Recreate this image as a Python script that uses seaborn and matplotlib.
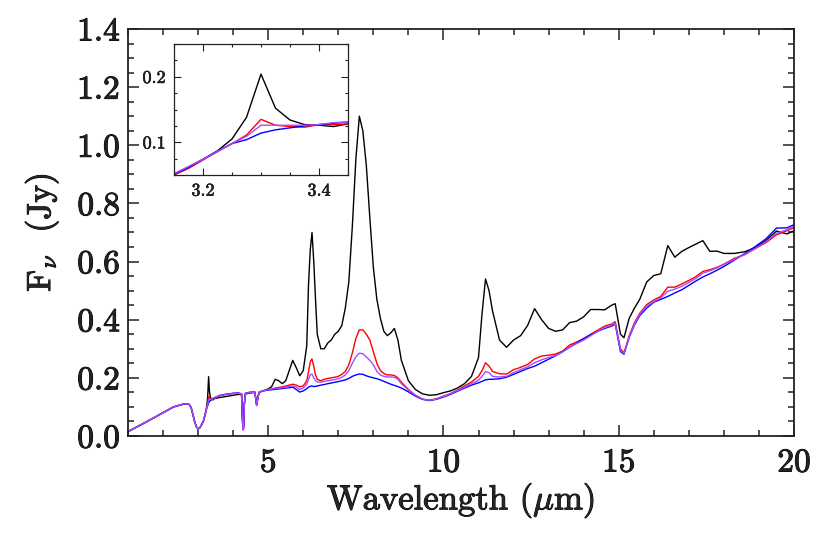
import matplotlib
matplotlib.use('Agg')
import matplotlib.pyplot as plt
import matplotlib.patheffects as pe
import numpy as np
import pandas as pd
import seaborn as sns
from matplotlib.ticker import MultipleLocator, FormatStrFormatter

# 波长网格 (micron)
wave = [
    1.0, 1.5, 2.0, 2.3, 2.5, 2.6, 2.7, 2.75, 2.8, 2.85, 2.9, 2.95, 3.0, 3.05, 3.1,
    3.15, 3.175, 3.2, 3.225, 3.25, 3.275, 3.3, 3.325, 3.35, 3.375, 3.4, 3.425, 3.45,
    3.6, 3.8, 4.0, 4.15, 4.24, 4.26, 4.28, 4.3, 4.32, 4.35, 4.45, 4.55, 4.62, 4.65, 4.67, 4.7, 4.74, 4.85, 5.0,
    5.1, 5.2, 5.3, 5.4, 5.5, 5.6, 5.7, 5.8, 5.9, 6.0,
    6.1, 6.15, 6.2, 6.25, 6.3, 6.35, 6.4,
    6.5, 6.6, 6.7, 6.8, 6.9, 7.0, 7.1, 7.2, 7.3, 7.4, 7.5, 7.6, 7.7, 7.8, 7.9, 8.0, 8.1, 8.2, 8.3, 8.4, 8.5, 8.6, 8.7, 8.8,
    9.0, 9.2, 9.4, 9.6, 9.8, 10.0, 10.2, 10.4, 10.6, 10.8,
    11.0, 11.1, 11.2, 11.3, 11.4,
    11.6, 11.8, 12.0, 12.2, 12.4, 12.6, 12.8, 13.0, 13.2, 13.4, 13.6, 13.8, 14.0, 14.2, 14.4, 14.6, 14.8,
    14.9, 15.05, 15.15, 15.3, 15.45, 15.6, 15.8,
    16.0, 16.2, 16.4, 16.6, 16.8, 17.0, 17.2, 17.4, 17.6, 17.8, 18.0,
    18.3, 18.6, 18.9, 19.2, 19.5, 19.8, 20.0,
]

# 共同部分 1-3.1 um
common_start = [0.015, 0.047, 0.080, 0.100, 0.107, 0.110, 0.111, 0.108, 0.098, 0.075, 0.050, 0.032, 0.024, 0.028, 0.039]

flux_black = common_start + [
    0.051, 0.062, 0.074, 0.087, 0.105, 0.138, 0.204, 0.152, 0.134, 0.127, 0.126, 0.124, 0.128,
    0.132, 0.136, 0.140, 0.143, 0.142, 0.070, 0.030, 0.035, 0.110, 0.144, 0.147, 0.149, 0.150, 0.125, 0.108, 0.128, 0.150, 0.155, 0.162,
    0.170, 0.195, 0.190, 0.180, 0.190, 0.225, 0.260, 0.235, 0.207, 0.225,
    0.310, 0.520, 0.640, 0.700, 0.600, 0.470, 0.350,
    0.300, 0.300, 0.320, 0.330, 0.350, 0.360, 0.380, 0.440, 0.530, 0.720, 0.950, 1.100, 1.050, 0.930, 0.750, 0.580, 0.470, 0.405, 0.360, 0.345, 0.355, 0.370, 0.330, 0.260,
    0.190, 0.160, 0.145, 0.140, 0.142, 0.149, 0.155, 0.165, 0.180, 0.205,
    0.270, 0.420, 0.540, 0.500, 0.430,
    0.330, 0.305, 0.330, 0.345, 0.380, 0.438, 0.400, 0.370, 0.360, 0.365, 0.390, 0.395, 0.410, 0.435, 0.435, 0.434, 0.450,
    0.455, 0.350, 0.338, 0.405, 0.440, 0.470, 0.530,
    0.552, 0.558, 0.655, 0.615, 0.635, 0.648, 0.660, 0.672, 0.635, 0.636, 0.628,
    0.628, 0.634, 0.648, 0.672, 0.705, 0.695, 0.706,
]

flux_red = common_start + [
    0.050, 0.060, 0.073, 0.086, 0.098, 0.111, 0.135, 0.126, 0.124, 0.123, 0.127, 0.127, 0.128,
    0.138, 0.143, 0.146, 0.147, 0.144, 0.070, 0.022, 0.028, 0.110, 0.146, 0.149, 0.150, 0.150, 0.125, 0.106, 0.128, 0.150, 0.155, 0.160,
    0.162, 0.165, 0.167, 0.169, 0.172, 0.175, 0.178, 0.175, 0.169, 0.172,
    0.190, 0.220, 0.255, 0.265, 0.240, 0.210, 0.195,
    0.190, 0.195, 0.198, 0.200, 0.202, 0.205, 0.212, 0.222, 0.245, 0.285, 0.335, 0.365, 0.365, 0.350, 0.330, 0.290, 0.250, 0.225, 0.215, 0.210, 0.210, 0.208, 0.200, 0.185,
    0.160, 0.140, 0.127, 0.123, 0.128, 0.137, 0.146, 0.158, 0.172, 0.186,
    0.205, 0.225, 0.252, 0.240, 0.222,
    0.214, 0.213, 0.228, 0.236, 0.246, 0.265, 0.275, 0.278, 0.282, 0.292, 0.313, 0.323, 0.335, 0.350, 0.364, 0.378, 0.385,
    0.393, 0.300, 0.286, 0.345, 0.390, 0.422, 0.452,
    0.468, 0.480, 0.512, 0.512, 0.523, 0.535, 0.548, 0.566, 0.572, 0.580, 0.591,
    0.611, 0.624, 0.645, 0.665, 0.692, 0.706, 0.717,
]

flux_blue = common_start + [
    0.051, 0.062, 0.074, 0.086, 0.098, 0.104, 0.114, 0.119, 0.122, 0.125, 0.127, 0.129, 0.131,
    0.139, 0.144, 0.147, 0.148, 0.145, 0.070, 0.022, 0.028, 0.110, 0.147, 0.150, 0.151, 0.151, 0.125, 0.106, 0.128, 0.151, 0.155, 0.158,
    0.159, 0.160, 0.162, 0.163, 0.165, 0.166, 0.168, 0.160, 0.151, 0.155,
    0.163, 0.168, 0.171, 0.172, 0.170, 0.171, 0.172,
    0.175, 0.177, 0.180, 0.182, 0.185, 0.187, 0.190, 0.193, 0.198, 0.205, 0.210, 0.213, 0.212, 0.207, 0.203, 0.200, 0.197, 0.193, 0.188, 0.183, 0.178, 0.174, 0.170, 0.165,
    0.152, 0.137, 0.126, 0.122, 0.126, 0.134, 0.143, 0.154, 0.165, 0.175,
    0.183, 0.188, 0.193, 0.195, 0.195,
    0.197, 0.202, 0.212, 0.222, 0.232, 0.240, 0.252, 0.264, 0.276, 0.290, 0.305, 0.320, 0.335, 0.348, 0.360, 0.370, 0.378,
    0.385, 0.290, 0.281, 0.340, 0.382, 0.414, 0.440,
    0.460, 0.470, 0.480, 0.492, 0.503, 0.518, 0.533, 0.547, 0.558, 0.570, 0.583,
    0.605, 0.628, 0.652, 0.678, 0.715, 0.716, 0.727,
]

flux_purple = common_start + [
    0.052, 0.063, 0.074, 0.086, 0.098, 0.109, 0.126, 0.126, 0.126, 0.126, 0.127, 0.130, 0.131,
    0.138, 0.143, 0.146, 0.147, 0.144, 0.068, 0.020, 0.026, 0.108, 0.146, 0.149, 0.150, 0.150, 0.123, 0.104, 0.127, 0.150, 0.155, 0.160,
    0.161, 0.163, 0.165, 0.166, 0.168, 0.170, 0.172, 0.168, 0.160, 0.165,
    0.178, 0.195, 0.210, 0.213, 0.200, 0.190, 0.186,
    0.185, 0.188, 0.190, 0.192, 0.194, 0.197, 0.202, 0.210, 0.225, 0.250, 0.272, 0.285, 0.283, 0.272, 0.260, 0.245, 0.222, 0.210, 0.205, 0.203, 0.203, 0.202, 0.195, 0.180,
    0.158, 0.140, 0.127, 0.123, 0.127, 0.136, 0.145, 0.156, 0.168, 0.180,
    0.192, 0.205, 0.222, 0.218, 0.205,
    0.203, 0.205, 0.218, 0.228, 0.238, 0.252, 0.262, 0.270, 0.277, 0.289, 0.306, 0.318, 0.330, 0.345, 0.360, 0.373, 0.381,
    0.388, 0.295, 0.283, 0.342, 0.385, 0.418, 0.447,
    0.462, 0.475, 0.498, 0.505, 0.515, 0.528, 0.542, 0.560, 0.568, 0.578, 0.590,
    0.607, 0.625, 0.645, 0.668, 0.697, 0.710, 0.722,
]

series_names = ['black', 'red', 'blue', 'purple']
series_colors = {'black': 'black', 'red': '#ff0000', 'blue': '#0000ff', 'purple': '#a64dff'}

# 组装长表
frames = []
for name, flux in zip(series_names, [flux_black, flux_red, flux_blue, flux_purple]):
    assert len(flux) == len(wave), (name, len(flux), len(wave))
    frames.append(pd.DataFrame({'wave': wave, 'flux': flux, 'src': name}))
df = pd.concat(frames, ignore_index=True)

sns.set_theme(style='ticks')
plt.rcParams['font.family'] = ['cmr10', 'DejaVu Serif']
plt.rcParams['mathtext.fontset'] = 'cm'
plt.rcParams['axes.formatter.use_mathtext'] = True
plt.rcParams['axes.edgecolor'] = '#222222'
plt.rcParams['xtick.color'] = '#222222'
plt.rcParams['ytick.color'] = '#222222'
plt.rcParams['text.color'] = 'black'

# 加粗字体笔画, 模仿 IDL 字体
heavy = [pe.withStroke(linewidth=0.7, foreground='black')]
light = [pe.withStroke(linewidth=0.4, foreground='black')]

fig = plt.figure(figsize=(8.3, 5.53), dpi=100)
ax = fig.add_axes([0.1542, 0.2116, 0.8024, 0.7360])

sns.lineplot(data=df, x='wave', y='flux', hue='src', hue_order=series_names,
             palette=series_colors, estimator=None, sort=False, legend=False,
             linewidth=1.0, ax=ax)

ax.set_xlim(1, 20)
ax.set_ylim(0, 1.4)
ax.xaxis.set_major_locator(MultipleLocator(5))
ax.xaxis.set_minor_locator(MultipleLocator(1))
ax.yaxis.set_major_locator(MultipleLocator(0.2))
ax.yaxis.set_minor_locator(MultipleLocator(0.05))
ax.xaxis.set_major_formatter(FormatStrFormatter('%d'))
ax.yaxis.set_major_formatter(FormatStrFormatter('%.1f'))
ax.tick_params(which='both', direction='in', top=True, right=True, width=1.1)
ax.tick_params(which='major', length=8, labelsize=24)
ax.tick_params(which='minor', length=4)
ax.tick_params(axis='x', which='major', pad=9)
ax.tick_params(axis='y', which='major', pad=6)
for sp in ax.spines.values():
    sp.set_linewidth(1.3)
for lab in ax.get_xticklabels() + ax.get_yticklabels():
    lab.set_path_effects(heavy)

ax.set_xlabel(r'Wavelength ($\mu$m)', fontsize=25, labelpad=2, path_effects=heavy)
ax.set_ylabel(r'F$_\nu$  (Jy)', fontsize=24, labelpad=12, path_effects=heavy)

# 插图: 3.3 um 特征
axin = fig.add_axes([0.2096, 0.6835, 0.2097, 0.2369])
sns.lineplot(data=df, x='wave', y='flux', hue='src', hue_order=series_names,
             palette=series_colors, estimator=None, sort=False, legend=False,
             linewidth=1.0, ax=axin)
axin.set_xlim(3.15, 3.45)
axin.set_ylim(0.05, 0.25)
axin.xaxis.set_major_locator(MultipleLocator(0.2))
axin.xaxis.set_minor_locator(MultipleLocator(0.05))
axin.yaxis.set_major_locator(MultipleLocator(0.1))
axin.yaxis.set_minor_locator(MultipleLocator(0.025))
axin.xaxis.set_major_formatter(FormatStrFormatter('%.1f'))
axin.yaxis.set_major_formatter(FormatStrFormatter('%.1f'))
axin.tick_params(which='both', direction='in', top=True, right=True, width=0.8)
axin.tick_params(which='major', length=5, labelsize=13, pad=6)
axin.tick_params(which='minor', length=2.5)
axin.set_xlabel('')
axin.set_ylabel('')
for sp in axin.spines.values():
    sp.set_linewidth(0.9)
for lab in axin.get_xticklabels() + axin.get_yticklabels():
    lab.set_path_effects(light)

fig.savefig('out.png', dpi=100)
